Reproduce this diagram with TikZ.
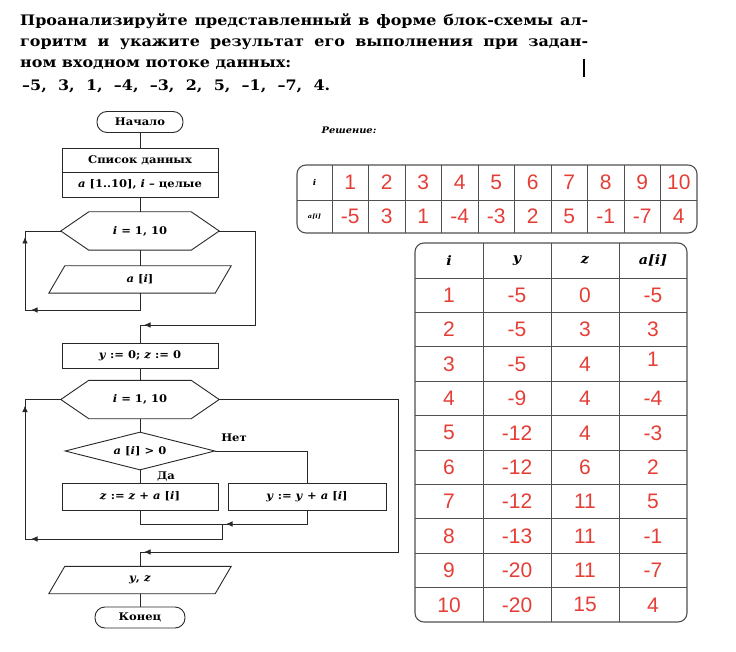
\documentclass[tikz,border=0pt]{standalone}
\usepackage{fontspec}
\setmainfont{DejaVu Serif}[FakeStretch=1.1]
\newfontfamily\numfont{Liberation Sans}
\usepackage{tikz}
\usetikzlibrary{arrows.meta,calc,positioning,shapes.geometric}
\definecolor{LineColor}{RGB}{40,40,40}
\definecolor{GridColor}{RGB}{80,80,80}
\definecolor{ValColor} {RGB}{228,62,55}
\newcommand{\fcfont}{\fontsize{10.5}{12}\selectfont\bfseries}
\newcommand{\hexframe}[1]{%
  \draw[fc] (#1.west) -- ([xshift=28pt]#1.north west) -- ([xshift=-28pt]#1.north east)
    -- (#1.east) -- ([xshift=-28pt]#1.south east) -- ([xshift=28pt]#1.south west) -- cycle;}
\newcommand{\paraframe}[1]{%
  \draw[fc] ([xshift=16pt]#1.north west) -- (#1.north east)
    -- ([xshift=-16pt]#1.south east) -- (#1.south west) -- cycle;}

\begin{document}
\begin{tikzpicture}[x=1pt,y=-1pt,
  fc/.style={draw=LineColor,line width=0.9pt},
  tip/.style={fc,-{Latex[length=6.5pt,width=5.5pt]}},
  termbox/.style={fc,rounded corners=10pt,minimum width=86pt,minimum height=21pt,font=\fcfont},
  procbox/.style={fc,rectangle,minimum width=156pt,minimum height=25pt,font=\fcfont},
  hexbox/.style={minimum width=158pt,minimum height=38pt,font=\fcfont},
  parabox/.style={minimum width=182pt,minimum height=27pt,font=\fcfont},
  ifbox/.style={fc,diamond,aspect=4,minimum width=150pt,minimum height=38pt,inner sep=0pt,font=\fcfont},
  lbl/.style={font=\fcfont,inner sep=1pt},
  title/.style={anchor=base west,inner sep=0pt,font=\fontsize{14.5}{17}\selectfont\bfseries},
  tblout/.style={draw=GridColor,line width=1.1pt,rounded corners=9pt},
  tblin/.style={draw=GridColor,line width=0.8pt},
  headval/.style={font=\fontsize{13}{15}\selectfont\bfseries\itshape},
  redval/.style={text=ValColor,font=\fontsize{21}{23}\selectfont\numfont}]
\useasboundingbox (0,0) rectangle (736,652);

% task text
\node[title] (l1) at (20,26) {\makebox[568pt][s]{Проанализируйте представленный в форме блок-схемы ал-}};
\node[title] (l2) at (20,47) {\makebox[568pt][s]{горитм и укажите результат его выполнения при задан-}};
\node[title] (l3) at (20,68) {ном входном потоке данных:};
\node[title] (l4) at (22,91) {\makebox[308pt][s]{–5, 3, 1, –4, –3, 2, 5, –1, –7, 4.}};
\draw[line width=1.5pt] (584,59) -- (584,77);

% flowchart
\node[termbox] (start) at (140,122) {Начало};
\node[procbox,minimum height=24pt] (dataT) at (140,160) {Список данных};
\node[procbox] (dataB) at (140,184.5) {\textit{a} [1..10], \textit{i} – целые};
\node[hexbox] (hexA) at (140,231) {\textit{i} = 1, 10};
\hexframe{hexA}
\node[parabox] (paraA) at (140,279.5) {\textit{a} [\textit{i}]};
\paraframe{paraA}
\node[procbox] (setYZ) at (140,355.5) {\textit{y} := 0; \textit{z} := 0};
\node[hexbox] (hexB) at (140,399.5) {\textit{i} = 1, 10};
\hexframe{hexB}
\node[ifbox] (cond) at (140,451) {\textit{a} [\textit{i}] > 0};
\node[procbox,minimum height=27pt] (boxZ) at (140,496.5) {\textit{z} := \textit{z} + \textit{a} [\textit{i}]};
\node[procbox,minimum width=158pt,minimum height=27pt] (boxY) at (307,496.5) {\textit{y} := \textit{y} + \textit{a} [\textit{i}]};
\node[parabox] (paraB) at (140,580) {\textit{y}, \textit{z}};
\paraframe{paraB}
\node[termbox,minimum width=90pt] (stop) at (140,617.5) {Конец};
\node[lbl] (lblNo) at (234,438) {Нет};
\node[lbl] (lblYes) at (166,476) {Да};

\coordinate (backA) at (25,310);
\coordinate (exitA) at (255,325);
\coordinate (mergeR) at (307,524);
\coordinate (mergeM) at (222,524);
\coordinate (backB) at (25,539);
\coordinate (exitB) at (398,552);

\draw[fc] (start) -- (dataT);
\draw[fc] (dataB) -- (hexA);
\draw[fc] (hexA) -- (paraA);
\draw[fc] (paraA.south) |- (backA) |- (hexA.west);
\draw[fc] (hexA.east) -| (exitA) -| (setYZ.north);
\draw[fc] (setYZ) -- (hexB);
\draw[fc] (hexB) -- (cond);
\draw[fc] (cond) -- (boxZ);
\draw[fc] (cond.east) -| (boxY.north);
\draw[fc] (boxZ.south) |- (mergeR) -- (boxY.south);
\draw[fc] (mergeM) |- (backB) |- (hexB.west);
\draw[fc] (hexB.east) -| (exitB) -| (paraB.north);
\draw[fc] (paraB) -- (stop);

\draw[tip] ($(backA)+(15,0)$) -- ($(backA)+(6,0)$);
\draw[tip] ($(backA |- hexA.west)+(0,14)$) -- ($(backA |- hexA.west)+(0,6)$);
\draw[tip] ($(setYZ.north |- exitA)+(14,0)$) -- ($(setYZ.north |- exitA)+(4,0)$);
\draw[tip] ($(mergeM)+(14,0)$) -- ($(mergeM)+(4,0)$);
\draw[tip] ($(backB)+(15,0)$) -- ($(backB)+(6,0)$);
\draw[tip] ($(backB |- hexB.west)+(0,14)$) -- ($(backB |- hexB.west)+(0,6)$);
\draw[tip] ($(paraB.north |- exitB)+(14,0)$) -- ($(paraB.north |- exitB)+(4,0)$);

% solution
\node[font=\fontsize{9}{11}\selectfont\bfseries\itshape] (solLbl) at (349,130) {Решение:};

% table of input
\draw[tblout] (297,165) rectangle (697,233);
\draw[tblin] (297,200) -- (697,200);
\foreach \k in {0,...,9}
  \draw[tblin] ({332+36.5*\k},165) -- ({332+36.5*\k},233);
\node[font=\fontsize{8}{9}\selectfont\bfseries\itshape] (t1h) at (314.5,182.5) {i};
\node[font=\fontsize{6}{7}\selectfont\bfseries\itshape] (t1a) at (314.5,216.5) {a[i]};
\foreach \v [count=\k] in {1,2,3,4,5,6,7,8,9,10}
  \node[redval] (ti\k) at ({332+36.5*(\k-0.5)},182.5) {\v};
\foreach \v [count=\k] in {-5,3,1,-4,-3,2,5,-1,-7,4}
  \node[redval] (ta\k) at ({332+36.5*(\k-0.5)},216.5) {\v};

% table of steps
\draw[tblout] (415,243) rectangle (687,622);
\foreach \k in {1,2,3}
  \draw[tblin] ({415+68*\k},243) -- ({415+68*\k},622);
\foreach \r in {0,...,9}
  \draw[tblin] (415,{278+34.4*\r}) -- (687,{278+34.4*\r});
\foreach \h [count=\k] in {i,y,z,a[i]}
  \node[headval] (th\k) at ({415+68*(\k-0.5)},260.5) {\h};
\foreach \n/\yv/\zv/\av/\dy [count=\r] in {1/-5/0/-5/0, 2/-5/3/3/0, 3/-5/4/1/-5,
    4/-9/4/-4/0, 5/-12/4/-3/0, 6/-12/6/2/0, 7/-12/11/5/0,
    8/-13/11/-1/0, 9/-20/11/-7/0, 10/-20/15/4/0}{
  \node[redval] (sn\r) at (449,{278+34.4*(\r-0.5)}) {\n};
  \node[redval] (sy\r) at (517,{278+34.4*(\r-0.5)}) {\yv};
  \node[redval] (sz\r) at (585,{278+34.4*(\r-0.5)}) {\zv};
  \node[redval] (sa\r) at (653,{278+34.4*(\r-0.5)+\dy}) {\av};
}
\end{tikzpicture}
\end{document}
